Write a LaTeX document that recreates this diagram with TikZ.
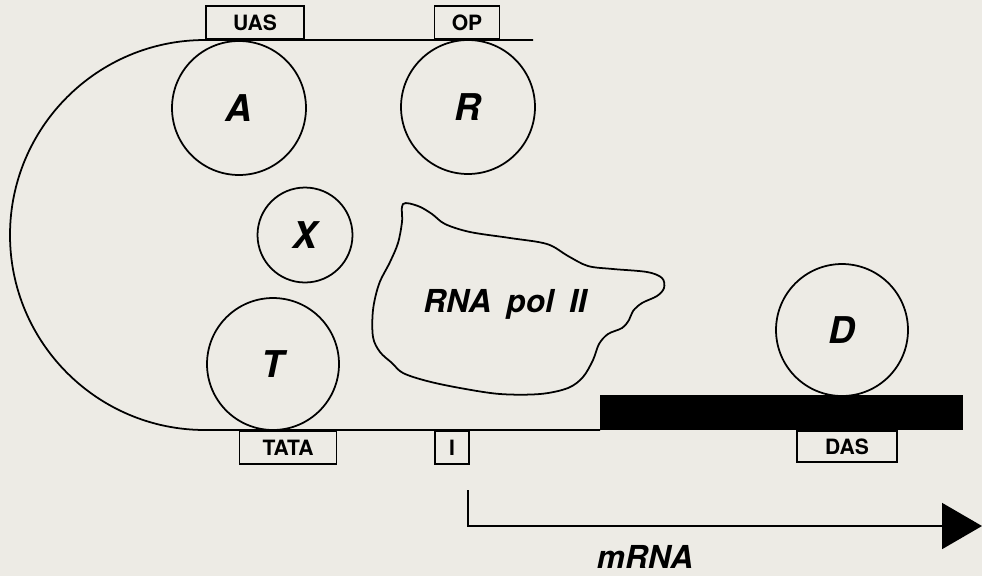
\documentclass[tikz,border=0pt]{standalone}
\usepackage{fontspec}
\setmainfont{TeX Gyre Heros}
\usetikzlibrary{arrows.meta}
\definecolor{paper}{RGB}{237,235,229}

\begin{document}
\begin{tikzpicture}[x=0.02cm, y=-0.02cm, line width=1pt,
    factor/.style={circle, draw, inner sep=0pt, font=\fontsize{21}{21}\selectfont\bfseries\itshape},
    site/.style={rectangle, draw, inner sep=0pt, minimum height=0.66cm, font=\fontsize{12}{12}\selectfont\bfseries},
    label/.style={font=\fontsize{18}{18}\selectfont\bfseries\itshape}]
        % Background
        \useasboundingbox (0,0) rectangle (982,576);
        \fill[paper] (0,0) rectangle (982,576);

        % DNA loop and coding region
        \draw (533,40) -- (205,40) .. controls (97.3,40) and (10,127.3) .. (10,235)
              .. controls (10,342.7) and (97.3,430) .. (205,430) -- (600,430);
        \fill (600,395) rectangle (963,430);

        % Sites
        \node (uas) [site, minimum width=1.96cm, anchor=south] at (255,40) {UAS};
        \node (op) [site, minimum width=1.3cm, anchor=south] at (467,40) {OP};
        \node (tata) [site, minimum width=1.94cm, anchor=north] at (288,430) {TATA};
        \node (init) [site, minimum width=0.68cm, anchor=north] at (452,430) {I};
        \node (das) [site, minimum width=2cm, minimum height=0.62cm, anchor=north] at (847,430) {DAS};

        % Factors
        \node (A) [factor, minimum size=2.68cm] at (239,108) {A};
        \node (R) [factor, minimum size=2.68cm] at (468,107) {R};
        \node (X) [factor, minimum size=1.9cm] at (305,235) {X};
        \node (T) [factor, minimum size=2.64cm] at (273,364) {T};
        \node (D) [factor, minimum size=2.64cm] at (842,330) {D};

        % Polymerase
        \draw plot[smooth cycle, tension=0.55] coordinates {(403,204) (418,206) (432,214)
            (445,224) (470,232) (510,238) (547,244) (568,256) (588,266) (613,269)
            (647,272) (662,278) (664,288) (657,296) (642,303) (633,311) (629,320)
            (622,328) (608,334) (599,344) (593,360) (583,377) (568,388) (540,394)
            (500,394) (460,388) (427,381) (403,373) (392,363) (380,352) (373,337)
            (373,310) (379,284) (390,262) (398,243) (402,222)};
        \node (pol) [label] at (505,304) {RNA\hspace{0.2em} pol\hspace{0.2em} II};

        % Transcript
        \coordinate (start) at (468,490);
        \coordinate (stop) at (982,526);
        \draw[-{Triangle[length=0.8cm, width=0.92cm]}] (start) |- (stop);
        \node (mrna) [label] at (645,557) {mRNA};
    \end{tikzpicture}
\end{document}
